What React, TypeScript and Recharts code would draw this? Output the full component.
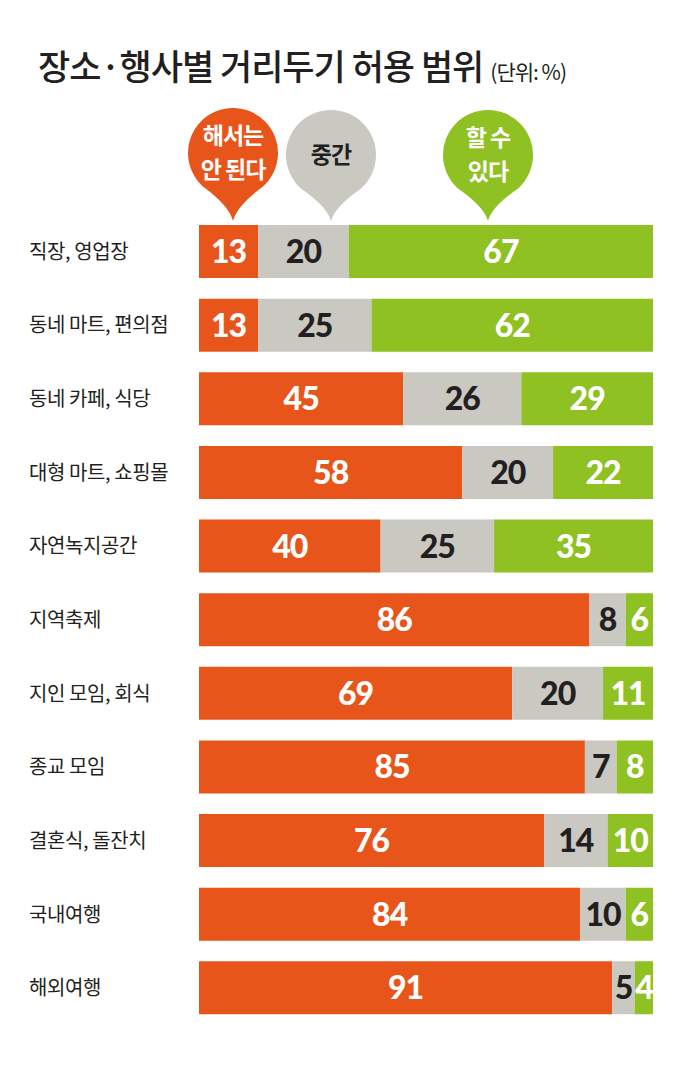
import { BarChart, Bar, XAxis, YAxis, LabelList } from 'recharts'

// ─── Data ─────────────────────────────────────────────────────────────────────

const categories = [
  '직장, 영업장',
  '동네 마트, 편의점',
  '동네 카페, 식당',
  '대형 마트, 쇼핑몰',
  '자연녹지공간',
  '지역축제',
  '지인 모임, 회식',
  '종교 모임',
  '결혼식, 돌잔치',
  '국내여행',
  '해외여행',
]
const notAllowed = [13, 13, 45, 58, 40, 86, 69, 85, 76, 84, 91]
const neutral = [20, 25, 26, 20, 25, 8, 20, 7, 14, 10, 5]
const allowed = [67, 62, 29, 22, 35, 6, 11, 8, 10, 6, 4]

const ORANGE = '#E8551A'
const GRAY = '#C9C8C1'
const GREEN = '#8EC121'
const DARK = '#231F20'

const data = categories.map((name, i) => ({
  name,
  no: notAllowed[i],
  mid: neutral[i],
  yes: allowed[i],
}))

const KR = "'Noto Sans CJK KR', 'Noto Sans', sans-serif"
const NUM = "Lato, 'Noto Sans', sans-serif"

// ─── Helpers ──────────────────────────────────────────────────────────────────

function pinPath(cx: number, cy: number, r: number, tipY: number): string {
  const a = (42 * Math.PI) / 180
  const lx = cx - r * Math.sin(a)
  const rx = cx + r * Math.sin(a)
  const ly = cy + r * Math.cos(a)
  const qy = ly + (tipY - ly) * 0.55
  return `M${cx},${tipY} Q${cx - 4},${qy} ${lx},${ly} A${r},${r} 0 1 1 ${rx},${ly} Q${cx + 4},${qy} ${cx},${tipY} Z`
}

function makeLabel(color: string) {
  return (props: any) => {
    const { x, y, width, height, value } = props
    return (
      <text
        x={Number(x) + Number(width) / 2}
        y={Number(y) + Number(height) / 2}
        dy="0.36em"
        textAnchor="middle"
        fill={color}
        fontFamily={NUM}
        fontWeight={900}
        fontSize={32}
        letterSpacing={-1}
      >
        {value}
      </text>
    )
  }
}

function CategoryTick({ y, payload }: any) {
  return (
    <text x={29} y={y} dy="0.35em" textAnchor="start" fill={DARK} fontFamily={KR} fontSize={20} letterSpacing={-0.4}>
      {payload.value}
    </text>
  )
}

// ─── Legend pins ──────────────────────────────────────────────────────────────

const pins = [
  { cx: 331, cy: 155, fill: GRAY, text: DARK, lines: ['중간'] },
  { cx: 233, cy: 153, fill: ORANGE, text: '#fff', lines: ['해서는', '안 된다'] },
  { cx: 488, cy: 155, fill: GREEN, text: '#fff', lines: ['할 수', '있다'] },
]

// ─── Component ────────────────────────────────────────────────────────────────

export default function App() {
  return (
    <div style={{ position: 'absolute', left: 0, top: 0, width: 680, height: 1085, background: '#fff' }}>
      <BarChart
        width={680}
        height={1085}
        data={data}
        layout="vertical"
        barCategoryGap={0}
        margin={{ top: 215, right: 27, bottom: 60, left: 0 }}
      >
        <XAxis type="number" domain={[0, 100]} hide />
        <YAxis
          type="category"
          dataKey="name"
          width={199}
          axisLine={false}
          tickLine={false}
          tick={<CategoryTick />}
          interval={0}
        />
        <Bar dataKey="no" stackId="a" fill={ORANGE} barSize={53} isAnimationActive={false}>
          <LabelList dataKey="no" content={makeLabel('#fff')} />
        </Bar>
        <Bar dataKey="mid" stackId="a" fill={GRAY} barSize={53} isAnimationActive={false}>
          <LabelList dataKey="mid" content={makeLabel(DARK)} />
        </Bar>
        <Bar dataKey="yes" stackId="a" fill={GREEN} barSize={53} isAnimationActive={false}>
          <LabelList dataKey="yes" content={makeLabel('#fff')} />
        </Bar>
      </BarChart>

      <svg
        width={680}
        height={225}
        style={{ position: 'absolute', left: 0, top: 0, pointerEvents: 'none' }}
      >
        <text x={38} y={80} fill={DARK} fontFamily={KR} fontWeight={500} fontSize={35} letterSpacing={-1}>
          장소·행사별 거리두기 허용 범위
          <tspan fontSize={21} fontWeight={400} dx={7} letterSpacing={-1}>(단위: %)</tspan>
        </text>
        {pins.map(p => (
          <g key={p.lines[0]}>
            <path d={pinPath(p.cx, p.cy, 45, 221)} fill={p.fill} />
            {p.lines.map((line, i) => (
              <text
                key={line}
                x={p.cx}
                y={p.cy + (i - (p.lines.length - 1) / 2) * 34}
                dy="0.36em"
                textAnchor="middle"
                fill={p.text}
                fontFamily={KR}
                fontWeight={700}
                fontSize={23}
                letterSpacing={-1}
              >
                {line}
              </text>
            ))}
          </g>
        ))}
      </svg>
    </div>
  )
}
